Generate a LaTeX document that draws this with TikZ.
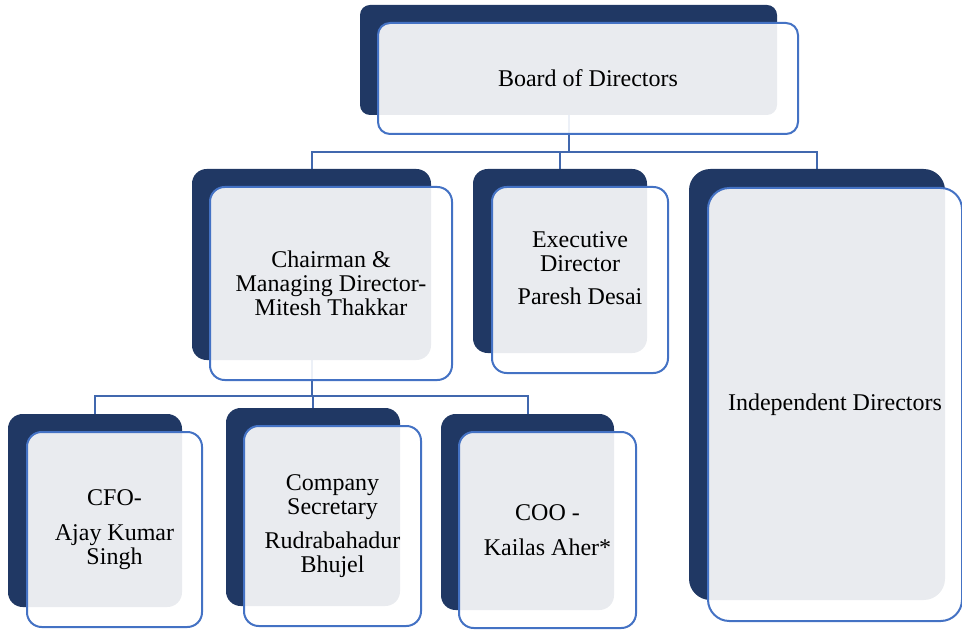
\documentclass[tikz,border=0pt]{standalone}
\usepackage{fontspec}
\setmainfont{Liberation Serif}
\usetikzlibrary{backgrounds}
\definecolor{boardnavy}{RGB}{32,56,100}
\definecolor{edgeblue}{RGB}{68,114,196}
\definecolor{linkblue}{RGB}{65,104,174}
\tikzset{
  backbox/.style={fill=boardnavy, rounded corners=#1, inner sep=0pt},
  backbox/.default=11pt,
  frontbox/.style={draw=edgeblue, line width=1.5pt, fill=white, fill opacity=0.9,
    text opacity=1, rounded corners=#1, inner sep=2pt, align=center,
    font=\fontsize{18pt}{18pt}\selectfont},
  frontbox/.default=11pt,
  link/.style={draw=linkblue, line width=1.5pt}
}
\begin{document}
\begin{tikzpicture}[x=0.75pt,y=-0.75pt]
\useasboundingbox (0,0) rectangle (962,630);
% dark boxes behind
\node[backbox=7.5pt, minimum width=312.75pt, minimum height=82.5pt] (boardback) at (568.5,60) {};
\node[backbox, minimum width=179.25pt, minimum height=143.25pt] (chairback) at (311.5,264.5) {};
\node[backbox, minimum width=130.5pt, minimum height=138pt] (execback) at (560,261) {};
\node[backbox=16pt, minimum width=192pt, minimum height=323.25pt] (indepback) at (817,384.5) {};
\node[backbox, minimum width=130.5pt, minimum height=144.75pt] (cfoback) at (95,510.5) {};
\node[backbox, minimum width=130.5pt, minimum height=148.5pt] (secback) at (313,507) {};
\node[backbox, minimum width=129.75pt, minimum height=147pt] (cooback) at (527.5,512) {};
% front boxes
\node[frontbox=9pt, minimum width=315pt, minimum height=83.25pt] (board) at (588,78.5) {Board of Directors};
\node[frontbox, minimum width=181.5pt, minimum height=144.75pt] (chair) at (331,283.5) {Chairman \&\\Managing Director-\\Mitesh Thakkar};
\node[frontbox, minimum width=132pt, minimum height=139.5pt] (exec) at (580,280) {Executive\\Director\\[7pt]Paresh Desai\\[-5pt]\strut};
\node[frontbox=16pt, minimum width=190.5pt, minimum height=324.75pt] (indep) at (835,404.5) {Independent Directors};
\node[frontbox, minimum width=131.25pt, minimum height=146.25pt] (cfo) at (114.5,529.5) {CFO-\\[8pt]Ajay Kumar\\Singh};
\node[frontbox, minimum width=132.75pt, minimum height=150pt] (sec) at (332.5,526) {Company\\Secretary\\[7pt]Rudrabahadur\\Bhujel};
\node[frontbox, minimum width=132.75pt, minimum height=147pt] (coo) at (547.5,530) {COO -\\[8pt]Kailas Aher*};
% connectors
\begin{pgfonlayer}{background}
\draw[link] (boardback.south) -- ++(0,37) -| (chairback.north);
\draw[link] (boardback.south) -- ++(0,37) -| (execback.north);
\draw[link] (boardback.south) -- ++(0,37) -| (indepback.north);
\draw[link] (chairback.south) -- ++(0,36) -| (cfoback.north);
\draw[link] (chairback.south) -- ++(0,36) -| (secback.north);
\draw[link] (chairback.south) -- ++(0,36) -| (cooback.north);
\end{pgfonlayer}
\end{tikzpicture}
\end{document}
